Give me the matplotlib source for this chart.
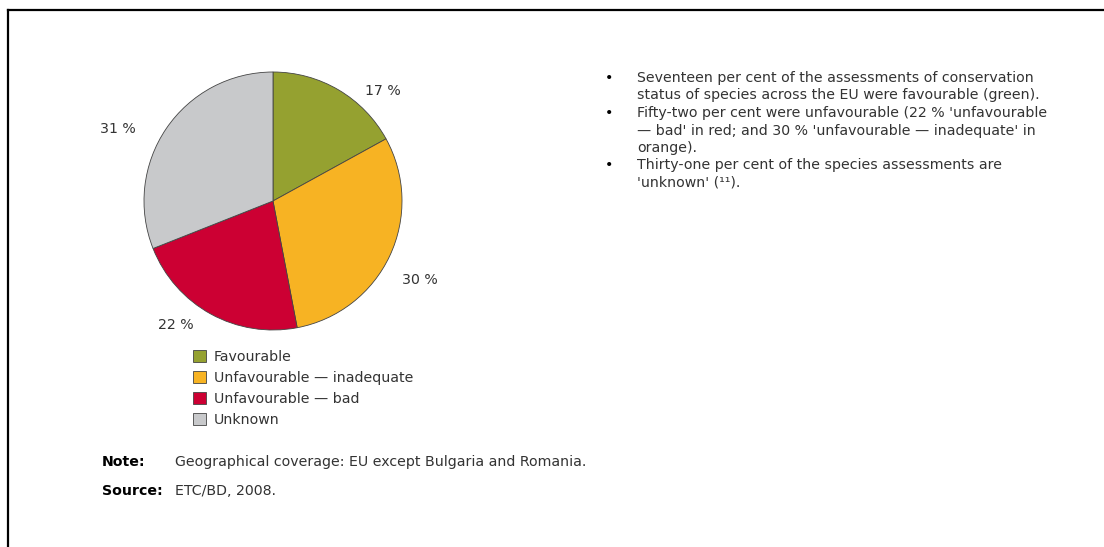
import matplotlib
matplotlib.use('Agg')
import matplotlib.pyplot as plt
from matplotlib.lines import Line2D

# Conservation status of species assessments, EU
categories = ['Favourable', 'Unfavourable \u2014 inadequate',
              'Unfavourable \u2014 bad', 'Unknown']
shares = [17, 30, 22, 31]
colors = ['#95a130', '#f7b323', '#cc0033', '#c8c9cb']

bullets = [
    ['Seventeen per cent of the assessments of conservation',
     'status of species across the EU were favourable (green).'],
    ["Fifty-two per cent were unfavourable (22 % 'unfavourable",
     "\u2014 bad' in red; and 30 % 'unfavourable \u2014 inadequate' in",
     'orange).'],
    ['Thirty-one per cent of the species assessments are',
     "'unknown' (\u00b9\u00b9)."],
]
note = 'Geographical coverage: EU except Bulgaria and Romania.'
source = 'ETC/BD, 2008.'

W, H = 1104, 547
txt = '#333333'
fs = 10.2

fig = plt.figure(figsize=(W / 100, H / 100), dpi=100)
fig.patch.set_facecolor('white')

def fx(px):
    return px / W

def fy(py):
    return 1 - py / H

# frame lines (top and left)
fig.add_artist(Line2D([fx(8), 1], [fy(10), fy(10)], color='black', lw=1.6,
                      transform=fig.transFigure))
fig.add_artist(Line2D([fx(8), fx(8)], [fy(10), 0], color='black', lw=1.6,
                      transform=fig.transFigure))

# pie
cx, cy, r = 273, 201, 129
ax = fig.add_axes([fx(cx - r), fy(cy + r), 2 * r / W, 2 * r / H])
wedges, _ = ax.pie(shares, colors=colors, startangle=90, counterclock=False,
                   radius=1,
                   wedgeprops=dict(edgecolor='#444444', linewidth=0.6))
ax.set_xlim(-1, 1)
ax.set_ylim(-1, 1)
ax.set_aspect('equal')
ax.axis('off')

# percentage labels (offsets in radius units)
label_pos = [(0.85, 0.85), (1.14, -0.61), (-0.75, -0.96), (-1.20, 0.56)]
for v, (lx, ly) in zip(shares, label_pos):
    ax.text(lx, ly, f'{v} %', ha='center', va='center', fontsize=fs,
            color=txt, clip_on=False)

# legend
leg = fig.legend(wedges, categories, loc='upper left',
                 bbox_to_anchor=(fx(186), fy(343)), frameon=False,
                 fontsize=fs, handlelength=0.92, handleheight=0.92,
                 handletextpad=0.55, labelspacing=0.5, borderpad=0,
                 labelcolor=txt)

# bullet text
y0, dy = 78, 17.5
line = 0
for item in bullets:
    fig.text(fx(605), fy(y0 + line * dy), '\u2022', fontsize=fs, color='black',
             va='center', ha='left')
    for s in item:
        fig.text(fx(637), fy(y0 + line * dy), s, fontsize=fs, color=txt,
                 va='center', ha='left')
        line += 1

# note and source
fig.text(fx(102), fy(462), 'Note:', fontsize=fs, fontweight='bold',
         color='black', va='center')
fig.text(fx(175), fy(462), note, fontsize=fs, color=txt, va='center')
fig.text(fx(102), fy(491), 'Source:', fontsize=fs, fontweight='bold',
         color='black', va='center')
fig.text(fx(175), fy(491), source, fontsize=fs, color=txt, va='center')

fig.savefig('out.png', dpi=100)
